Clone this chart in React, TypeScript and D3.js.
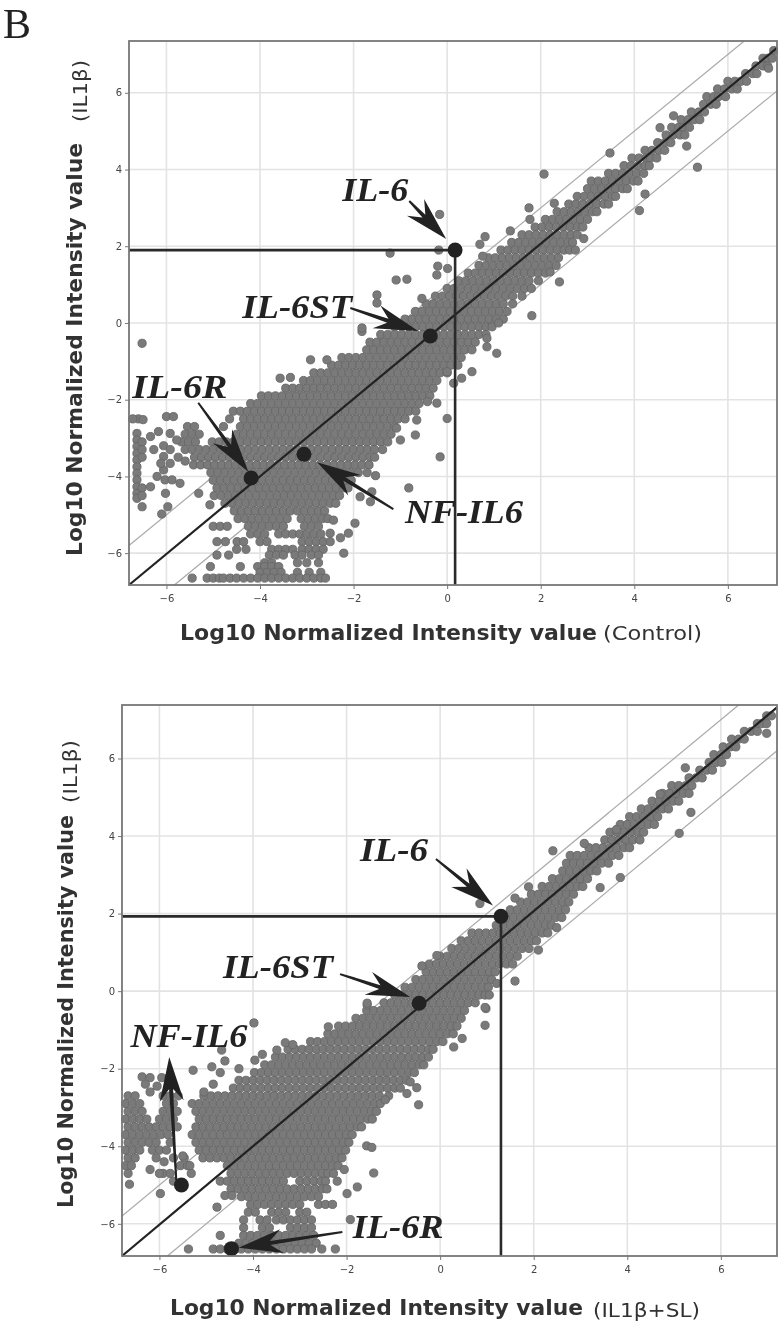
import React, { useEffect, useRef } from 'react'
import * as d3 from 'd3'

type Row = [number, number[]]
type Pair = [number, number]
type Label = [string, number, number, number]

const tickValues = [-6, -4, -2, 0, 2, 4, 6]
const gridValues = [-6, -4, -2, 0, 2, 4, 6]

// dense band of panel 1, read row by row: [y, x values]
const bandControl: Row[] = [
  [7.1, [6.98]],
  [6.9, [6.75, 6.85, 6.95]],
  [6.7, [6.6, 6.75, 6.85]],
  [6.5, [6.38, 6.53, 6.62]],
  [6.3, [6, 6.15, 6.28, 6.4]],
  [6.1, [5.78, 5.93, 6.08, 6.2]],
  [5.9, [5.55, 5.7, 5.8, 5.95]],
  [5.7, [5.48, 5.63, 5.75]],
  [5.5, [5.22, 5.38, 5.5]],
  [5.3, [5, 5.15, 5.28, 5.4]],
  [5.1, [4.8, 4.95, 5.05, 5.18]],
  [4.9, [4.68, 4.83, 4.98, 5.08]],
  [4.7, [4.5, 4.65, 4.78]],
  [4.5, [4.23, 4.38, 4.53, 4.65]],
  [4.3, [3.95, 4.1, 4.25, 4.35, 4.48]],
  [4.1, [3.78, 3.93, 4.08, 4.23, 4.32]],
  [3.9, [3.45, 3.6, 3.75, 3.9, 4.05, 4.2]],
  [3.7, [3.08, 3.23, 3.38, 3.53, 3.68, 3.83, 3.98, 4.08]],
  [3.5, [3, 3.15, 3.3, 3.45, 3.6, 3.75, 3.85]],
  [3.3, [2.78, 2.93, 3.08, 3.23, 3.38, 3.53, 3.6]],
  [3.1, [2.6, 2.75, 2.9, 3.05, 3.2, 3.35, 3.45]],
  [2.9, [2.35, 2.5, 2.65, 2.8, 2.95, 3.1, 3.2]],
  [2.7, [2.1, 2.25, 2.4, 2.55, 2.7, 2.85, 3]],
  [2.5, [1.88, 2.03, 2.18, 2.33, 2.48, 2.63, 2.78, 2.9]],
  [2.3, [1.6, 1.75, 1.9, 2.05, 2.2, 2.35, 2.5, 2.65, 2.78]],
  [2.1, [1.38, 1.53, 1.68, 1.83, 1.98, 2.13, 2.28, 2.43, 2.58, 2.68]],
  [1.9, [1.15, 1.3, 1.45, 1.6, 1.75, 1.9, 2.05, 2.2, 2.35, 2.5, 2.62]],
  [1.7, [.88, 1.03, 1.18, 1.33, 1.48, 1.63, 1.78, 1.93, 2.08, 2.23, 2.38]],
  [1.5, [.68, .83, .98, 1.13, 1.28, 1.43, 1.58, 1.73, 1.88, 2.03, 2.18, 2.33]],
  [1.3, [.45, .6, .75, .9, 1.05, 1.2, 1.35, 1.5, 1.65, 1.8, 1.95, 2.1]],
  [1.1, [.25, .4, .55, .7, .85, 1, 1.15, 1.3, 1.45, 1.6, 1.75, 1.95]],
  [.9, [0, .15, .3, .45, .6, .75, .9, 1.05, 1.2, 1.35, 1.5, 1.65, 1.8]],
  [.7, [-.25, -.1, .05, .2, .35, .5, .65, .8, .95, 1.1, 1.25, 1.4, 1.6]],
  [.5, [-.45, -.3, -.15, 0, .15, .3, .45, .6, .75, .9, 1.05, 1.2, 1.4]],
  [.3, [-.68, -.53, -.38, -.23, -.08, .07, .22, .37, .52, .67, .82, .97, 1.12, 1.28]],
  [.1, [-.9, -.75, -.6, -.45, -.3, -.15, 0, .15, .3, .45, .6, .75, .9, 1.05, 1.2]],
  [-.1, [-1.12, -.97, -.82, -.67, -.52, -.37, -.22, -.07, .08, .23, .38, .53, .68, .83, .96]],
  [-.3, [-1.42, -1.27, -1.12, -.97, -.82, -.67, -.52, -.37, -.22, -.07, .08, .23, .38, .53, .68, .83]],
  [-.5, [-1.65, -1.5, -1.35, -1.2, -1.05, -.9, -.75, -.6, -.45, -.3, -.15, 0, .15, .3, .45, .6]],
  [-.7, [-1.72, -1.57, -1.42, -1.27, -1.12, -.97, -.82, -.67, -.52, -.37, -.22, -.07, .08, .23, .38, .53]],
  [-.9, [-2.25, -2.1, -1.95, -1.8, -1.65, -1.5, -1.35, -1.2, -1.05, -.9, -.75, -.6, -.45, -.3, -.15, 0, .15, .3]],
  [-1.1, [-2.47, -2.32, -2.17, -2.02, -1.87, -1.72, -1.57, -1.42, -1.27, -1.12, -.97, -.82, -.67, -.52, -.37, -.22, -.07, .08, .23]],
  [-1.3, [-2.85, -2.7, -2.55, -2.4, -2.25, -2.1, -1.95, -1.8, -1.65, -1.5, -1.35, -1.2, -1.05, -.9, -.75, -.6, -.45, -.3, -.15, 0]],
  [-1.5, [-3.07, -2.92, -2.77, -2.62, -2.47, -2.32, -2.17, -2.02, -1.87, -1.72, -1.57, -1.42, -1.27, -1.12, -.97, -.82, -.67, -.52, -.37, -.22]],
  [-1.7, [-3.45, -3.3, -3.15, -3, -2.85, -2.7, -2.55, -2.4, -2.25, -2.1, -1.95, -1.8, -1.65, -1.5, -1.35, -1.2, -1.05, -.9, -.75, -.6, -.45, -.3]],
  [-1.9, [-3.97, -3.82, -3.67, -3.52, -3.37, -3.22, -3.07, -2.92, -2.77, -2.62, -2.47, -2.32, -2.17, -2.02, -1.87, -1.72, -1.57, -1.42, -1.27, -1.12, -.97, -.82, -.67, -.52, -.37]],
  [-2.1, [-4.2, -4.05, -3.9, -3.75, -3.6, -3.45, -3.3, -3.15, -3, -2.85, -2.7, -2.55, -2.4, -2.25, -2.1, -1.95, -1.8, -1.65, -1.5, -1.35, -1.2, -1.05, -.9, -.75, -.6]],
  [-2.3, [-4.57, -4.42, -4.27, -4.12, -3.97, -3.82, -3.67, -3.52, -3.37, -3.22, -3.07, -2.92, -2.77, -2.62, -2.47, -2.32, -2.17, -2.02, -1.87, -1.72, -1.57, -1.42, -1.27, -1.12, -.97, -.82, -.67]],
  [-2.5, [-4.65, -4.35, -4.2, -4.05, -3.9, -3.75, -3.6, -3.45, -3.3, -3.15, -3, -2.85, -2.7, -2.55, -2.4, -2.25, -2.1, -1.95, -1.8, -1.65, -1.5, -1.35, -1.2, -1.05, -.9]],
  [-2.7, [-5.55, -5.4, -4.78, -4.42, -4.27, -4.12, -3.97, -3.82, -3.67, -3.52, -3.37, -3.22, -3.07, -2.92, -2.77, -2.62, -2.47, -2.32, -2.17, -2.02, -1.87, -1.72, -1.57, -1.42, -1.27, -1.12]],
  [-2.9, [-5.6, -5.45, -5.3, -4.5, -4.35, -4.2, -4.05, -3.9, -3.75, -3.6, -3.45, -3.3, -3.15, -3, -2.85, -2.7, -2.55, -2.4, -2.25, -2.1, -1.95, -1.8, -1.65, -1.5, -1.35, -1.2]],
  [-3.1, [-5.68, -5.53, -5.38, -5.02, -4.87, -4.72, -4.57, -4.42, -4.27, -4.12, -3.97, -3.82, -3.67, -3.52, -3.37, -3.22, -3.07, -2.92, -2.77, -2.62, -2.47, -2.32, -2.17, -2.02, -1.87, -1.72, -1.57, -1.42, -1.27]],
  [-3.3, [-5.6, -5.45, -5.3, -5.15, -5, -4.85, -4.7, -4.55, -4.4, -4.25, -4.1, -3.95, -3.8, -3.65, -3.5, -3.35, -3.2, -3.05, -2.9, -2.75, -2.6, -2.45, -2.3, -2.15, -2, -1.85, -1.7, -1.55, -1.38]],
  [-3.5, [-5.4, -5.25, -5.1, -4.95, -4.8, -4.65, -4.5, -4.35, -4.2, -4.05, -3.9, -3.75, -3.6, -3.45, -3.3, -3.15, -3, -2.85, -2.7, -2.55, -2.4, -2.25, -2.1, -1.95, -1.8, -1.65, -1.55]],
  [-3.7, [-5.42, -5.27, -5.12, -4.97, -4.82, -4.67, -4.52, -4.37, -4.22, -4.07, -3.92, -3.77, -3.62, -3.47, -3.32, -3.17, -3.02, -2.87, -2.72, -2.57, -2.42, -2.27, -2.12, -1.97, -1.82, -1.67]],
  [-3.9, [-5.05, -4.9, -4.75, -4.6, -4.45, -4.3, -4.15, -4, -3.85, -3.7, -3.55, -3.4, -3.25, -3.1, -2.95, -2.8, -2.65, -2.5, -2.35, -2.2, -2.05, -1.9]],
  [-4.1, [-5, -4.85, -4.7, -4.55, -4.4, -4.25, -4.1, -3.95, -3.8, -3.65, -3.5, -3.35, -3.2, -3.05, -2.9, -2.75, -2.6, -2.45, -2.3, -2.15, -2.05]],
  [-4.3, [-4.92, -4.77, -4.62, -4.47, -4.32, -4.17, -4.02, -3.87, -3.72, -3.57, -3.42, -3.27, -3.12, -2.97, -2.82, -2.67, -2.52, -2.37, -2.22, -2.12]],
  [-4.5, [-4.98, -4.83, -4.68, -4.53, -4.38, -4.23, -4.08, -3.93, -3.78, -3.63, -3.48, -3.33, -3.18, -3.03, -2.88, -2.73, -2.58, -2.43, -2.3]],
  [-4.7, [-4.75, -4.6, -4.45, -4.3, -4.15, -4, -3.85, -3.7, -3.55, -3.4, -3.25, -3.1, -2.95, -2.8, -2.65, -2.5, -2.38]],
  [-4.9, [-4.55, -4.4, -4.25, -4.1, -3.95, -3.8, -3.65, -3.5, -3.35, -3.2, -3.05, -2.9, -2.75, -2.62]],
  [-5.1, [-4.47, -4.32, -4.17, -4.02, -3.87, -3.72, -3.57, -3.42, -3.12, -2.97, -2.82, -2.67, -2.55]],
  [-5.3, [-5, -4.85, -4.7, -4.25, -4.1, -3.95, -3.8, -3.65, -3.5, -3.05, -2.9, -2.75]],
  [-5.5, [-4.2, -4.05, -3.9, -3.6, -3.45, -3.3, -3.15, -3, -2.85, -2.7]],
  [-5.7, [-4.92, -4.74, -4.49, -4.35, -4, -3.85, -3.1, -2.95, -2.8, -2.65, -2.5]],
  [-5.9, [-4.5, -4.3, -3.75, -3.6, -3.45, -3.3, -3.1, -2.95, -2.8, -2.65]],
  [-6.05, [-4.92, -4.67, -3.8, -3.65, -3.5, -3.25, -3.1, -2.9, -2.75]],
  [-6.25, [-3.9, -3.75, -3.2, -3, -2.75]],
  [-6.35, [-5.06, -4.42, -4.05, -3.9, -3.75, -3.6]],
  [-6.5, [-4, -3.85, -3.7, -3.55, -3.2, -2.95, -2.7]],
  [-6.65, [-5.45, -5.13, -5, -4.87, -4.78, -4.64, -4.5, -4.35, -4.2, -4.05, -3.9, -3.75, -3.6, -3.45, -3.3, -3.15, -3, -2.85, -2.7, -2.6]],
]

const scatterControl: Pair[] = [
  [-6.52, -.53], [-6.6, -2.5], [-6.72, -2.5], [-6.5, -2.52], [-6, -2.44], [-5.85, -2.44],
  [-6.63, -2.88], [-6.63, -3.05], [-6.63, -3.22], [-6.63, -3.4], [-6.63, -3.57], [-6.63, -3.75], [-6.63, -3.92], [-6.63, -4.09], [-6.63, -4.27], [-6.63, -4.44], [-6.63, -4.57],
  [-6.52, -3.1], [-6.52, -3.3], [-6.52, -3.5], [-6.52, -4.3], [-6.52, -4.5], [-6.52, -4.79],
  [-6.02, -4.44], [-5.97, -4.79], [-6.1, -4.98], [-6.34, -2.96], [-6.17, -2.83], [-5.92, -2.88], [-5.78, -3.05], [-6.27, -3.3],
  [-6.06, -3.48], [-5.92, -3.66], [-6.06, -3.83], [-6.2, -4], [-6.03, -4.09], [-5.88, -4.09], [-5.71, -4.18], [-6.34, -4.27], [-6.06, -3.2], [-5.92, -3.3], [-6.12, -3.66], [-5.75, -3.5], [-5.6, -3.6],
  [-5.31, -4.44], [-5.07, -4.74], [-1.97, -5.22], [-2.43, -5.14], [-2.5, -5.48], [-2.11, -5.48], [-2.28, -5.6], [-2.21, -6],
  [-.82, -4.3], [-.15, -3.49], [0, -2.49], [-.68, -2.92], [-1, -3.05], [-.65, -2.53], [-1.08, -2.74], [-.22, -2.09], [-.42, -2.05],
  [-1.71, -3.9], [-1.53, -3.98], [-1.86, -4.53], [-1.64, -4.66], [-1.61, -4.4], [-3.57, -1.44], [-3.35, -1.42], [-2.92, -.96], [-2.57, -.96], [-1.82, -.22],
  [.53, -1.27], [.31, -1.44], [0, -1.27], [.14, -1.57], [.85, -.62], [1.06, -.79], [.85, -.4],
  [6.87, 6.64], [4.84, 5.4], [5.12, 4.61], [5.35, 4.06], [4.55, 5.09], [3.48, 4.43], [2.07, 3.88], [4.23, 3.36], [4.11, 2.93], [1.75, 3], [1.77, 2.7], [2.29, 3.12], [1.35, 2.4], [.81, 2.25], [.7, 2.05], [.76, 1.74],
  [-.16, 2.83], [-.18, 1.9], [-.2, 1.48], [.01, 1.42], [-.22, 1.25], [-.86, 1.14], [2.4, 1.07], [1.81, .19], [-.54, .64], [1.1, 0], [2.92, 2.2], [2.74, 1.9], [2.2, 1.33],
  [-1.22, 1.82], [-1.09, 1.12], [-1.5, .73], [-1.5, .52], [-1.82, -.13],
]

// dense band of panel 2
const bandSl: Row[] = [
  [7.1, [6.98, 7.08]],
  [6.9, [6.78, 6.88, 6.98]],
  [6.7, [6.5, 6.65, 6.78]],
  [6.5, [6.23, 6.38, 6.5]],
  [6.3, [6.05, 6.2, 6.32]],
  [6.1, [5.85, 6, 6.12]],
  [5.9, [5.75, 5.9, 6.02]],
  [5.7, [5.55, 5.7, 5.82]],
  [5.5, [5.32, 5.47, 5.6]],
  [5.3, [4.95, 5.1, 5.25, 5.38]],
  [5.1, [4.75, 4.9, 5.05, 5.2, 5.32]],
  [4.9, [4.53, 4.68, 4.83, 4.98, 5.1]],
  [4.7, [4.3, 4.45, 4.6, 4.75, 4.88]],
  [4.5, [4.05, 4.2, 4.35, 4.5, 4.65]],
  [4.3, [3.85, 4, 4.15, 4.3, 4.45, 4.58]],
  [4.1, [3.63, 3.78, 3.93, 4.08, 4.23, 4.35]],
  [3.9, [3.52, 3.67, 3.82, 3.97, 4.12, 4.27]],
  [3.7, [3.18, 3.33, 3.48, 3.63, 3.78, 3.93, 4.05]],
  [3.5, [2.78, 2.93, 3.08, 3.23, 3.38, 3.53, 3.68, 3.82]],
  [3.3, [2.7, 2.85, 3, 3.15, 3.3, 3.45, 3.6]],
  [3.1, [2.62, 2.77, 2.92, 3.07, 3.22, 3.35]],
  [2.9, [2.4, 2.55, 2.7, 2.85, 3, 3.15]],
  [2.7, [2.18, 2.33, 2.48, 2.63, 2.78, 2.93, 3.05]],
  [2.5, [1.95, 2.1, 2.25, 2.4, 2.55, 2.7, 2.85]],
  [2.3, [1.72, 1.87, 2.02, 2.17, 2.32, 2.47, 2.62, 2.75]],
  [2.1, [1.5, 1.65, 1.8, 1.95, 2.1, 2.25, 2.4, 2.55, 2.68]],
  [1.9, [1.42, 1.57, 1.72, 1.87, 2.02, 2.17, 2.32, 2.47, 2.6]],
  [1.7, [1.2, 1.35, 1.5, 1.65, 1.8, 1.95, 2.1, 2.25, 2.38]],
  [1.5, [.68, .83, .98, 1.13, 1.28, 1.43, 1.58, 1.73, 1.88, 2.03, 2.18, 2.3]],
  [1.3, [.45, .6, .75, .9, 1.05, 1.2, 1.35, 1.5, 1.65, 1.8, 1.95, 2.06]],
  [1.1, [.25, .4, .55, .7, .85, 1, 1.15, 1.3, 1.45, 1.6, 1.75, 1.9]],
  [.9, [0, .15, .3, .45, .6, .75, .9, 1.05, 1.2, 1.35, 1.5, 1.65]],
  [.7, [-.23, -.08, .07, .22, .37, .52, .67, .82, .97, 1.12, 1.27, 1.42, 1.55]],
  [.5, [-.3, -.15, 0, .15, .3, .45, .6, .75, .9, 1.05, 1.18]],
  [.3, [-.52, -.37, -.22, -.07, .08, .23, .38, .53, .68, .83, .98, 1.1]],
  [.1, [-.75, -.6, -.45, -.3, -.15, 0, .15, .3, .45, .6, .75, .9, 1.03]],
  [-.1, [-.97, -.82, -.67, -.52, -.37, -.22, -.07, .08, .23, .38, .53, .68, .83, .96]],
  [-.3, [-1.2, -1.05, -.9, -.75, -.6, -.45, -.3, -.15, 0, .15, .3, .45, .6, .75]],
  [-.5, [-1.57, -1.42, -1.27, -1.12, -.97, -.82, -.67, -.52, -.37, -.22, -.07, .08, .23, .38, .52]],
  [-.7, [-1.8, -1.65, -1.5, -1.35, -1.2, -1.05, -.9, -.75, -.6, -.45, -.3, -.15, 0, .15, .3, .45]],
  [-.9, [-2.17, -2.02, -1.87, -1.72, -1.57, -1.42, -1.27, -1.12, -.97, -.82, -.67, -.52, -.37, -.22, -.07, .08, .23, .36]],
  [-1.1, [-2.4, -2.25, -2.1, -1.95, -1.8, -1.65, -1.5, -1.35, -1.2, -1.05, -.9, -.75, -.6, -.45, -.3, -.15, 0, .15, .28]],
  [-1.3, [-2.77, -2.62, -2.47, -2.32, -2.17, -2.02, -1.87, -1.72, -1.57, -1.42, -1.27, -1.12, -.97, -.82, -.67, -.52, -.37, -.22, -.07, .06]],
  [-1.5, [-3.25, -3.1, -2.95, -2.8, -2.65, -2.5, -2.35, -2.2, -2.05, -1.9, -1.75, -1.6, -1.45, -1.3, -1.15, -1, -.85, -.7, -.55, -.4, -.25, -.15]],
  [-1.7, [-3.52, -3.37, -3.22, -3.07, -2.92, -2.77, -2.62, -2.47, -2.32, -2.17, -2.02, -1.87, -1.72, -1.57, -1.42, -1.27, -1.12, -.97, -.82, -.67, -.52, -.37, -.25]],
  [-1.9, [-3.75, -3.6, -3.45, -3.3, -3.15, -3, -2.85, -2.7, -2.55, -2.4, -2.25, -2.1, -1.95, -1.8, -1.65, -1.5, -1.35, -1.2, -1.05, -.9, -.75, -.6, -.45, -.35]],
  [-2.1, [-3.97, -3.82, -3.67, -3.52, -3.37, -3.22, -3.07, -2.92, -2.77, -2.62, -2.47, -2.32, -2.17, -2.02, -1.87, -1.72, -1.57, -1.42, -1.27, -1.12, -.97, -.82, -.67, -.55]],
  [-2.3, [-4.3, -4.15, -4, -3.85, -3.7, -3.55, -3.4, -3.25, -3.1, -2.95, -2.8, -2.65, -2.5, -2.35, -2.2, -2.05, -1.9, -1.75, -1.6, -1.45, -1.3, -1.15, -1, -.85, -.72]],
  [-2.5, [-4.42, -4.27, -4.12, -3.97, -3.82, -3.67, -3.52, -3.37, -3.22, -3.07, -2.92, -2.77, -2.62, -2.47, -2.32, -2.17, -2.02, -1.87, -1.72, -1.57, -1.42, -1.27, -1.12, -.97, -.85]],
  [-2.7, [-6.67, -6.52, -5.92, -5.77, -5.05, -4.9, -4.75, -4.6, -4.45, -4.3, -4.15, -4, -3.85, -3.7, -3.55, -3.4, -3.25, -3.1, -2.95, -2.8, -2.65, -2.5, -2.35, -2.2, -2.05, -1.9, -1.75, -1.6, -1.45, -1.3, -1.1]],
  [-2.9, [-6.72, -6.57, -6.42, -5.85, -5.7, -5.3, -5.15, -5, -4.85, -4.7, -4.55, -4.4, -4.25, -4.1, -3.95, -3.8, -3.65, -3.5, -3.35, -3.2, -3.05, -2.9, -2.75, -2.6, -2.45, -2.3, -2.15, -2, -1.85, -1.7, -1.55, -1.4, -1.28]],
  [-3.1, [-6.67, -6.52, -6.37, -5.92, -5.77, -5.62, -5.22, -5.07, -4.92, -4.77, -4.62, -4.47, -4.32, -4.17, -4.02, -3.87, -3.72, -3.57, -3.42, -3.27, -3.12, -2.97, -2.82, -2.67, -2.52, -2.37, -2.22, -2.07, -1.92, -1.77, -1.62, -1.47, -1.36]],
  [-3.3, [-6.72, -6.57, -6.42, -6.27, -6, -5.85, -5.7, -5.15, -5, -4.85, -4.7, -4.55, -4.4, -4.25, -4.1, -3.95, -3.8, -3.65, -3.5, -3.35, -3.2, -3.05, -2.9, -2.75, -2.6, -2.45, -2.3, -2.15, -2, -1.85, -1.7, -1.55, -1.45]],
  [-3.5, [-6.67, -6.52, -6.37, -6.22, -6.07, -5.92, -5.77, -5.62, -5.22, -5.07, -4.92, -4.77, -4.62, -4.47, -4.32, -4.17, -4.02, -3.87, -3.72, -3.57, -3.42, -3.27, -3.12, -2.97, -2.82, -2.67, -2.52, -2.37, -2.22, -2.07, -1.92, -1.77, -1.68]],
  [-3.7, [-6.72, -6.57, -6.42, -6.27, -6.12, -5.97, -5.82, -5.3, -5.15, -5, -4.85, -4.7, -4.55, -4.4, -4.25, -4.1, -3.95, -3.8, -3.65, -3.5, -3.35, -3.2, -3.05, -2.9, -2.75, -2.6, -2.45, -2.3, -2.15, -2, -1.88]],
  [-3.9, [-6.67, -6.52, -6.37, -6.22, -6.07, -5.77, -5.22, -5.07, -4.92, -4.77, -4.62, -4.47, -4.32, -4.17, -4.02, -3.87, -3.72, -3.57, -3.42, -3.27, -3.12, -2.97, -2.82, -2.67, -2.52, -2.37, -2.22, -2.07, -1.95]],
  [-4.1, [-6.72, -6.57, -6.42, -6.15, -6, -5.85, -5.15, -5, -4.85, -4.7, -4.55, -4.4, -4.25, -4.1, -3.95, -3.8, -3.65, -3.5, -3.35, -3.2, -3.05, -2.9, -2.75, -2.6, -2.45, -2.3, -2.15, -2.02]],
  [-4.3, [-6.67, -6.52, -6.07, -5.47, -5.07, -4.92, -4.77, -4.62, -4.47, -4.32, -4.17, -4.02, -3.87, -3.72, -3.57, -3.42, -3.27, -3.12, -2.97, -2.82, -2.67, -2.52, -2.37, -2.22, -2.1]],
  [-4.5, [-6.72, -6.6, -5.55, -5.4, -4.55, -4.4, -4.25, -4.1, -3.95, -3.8, -3.65, -3.5, -3.35, -3.2, -3.05, -2.9, -2.75, -2.6, -2.45, -2.3, -2.18]],
  [-4.7, [-6.67, -5.92, -5.77, -5.32, -4.47, -4.32, -4.17, -4.02, -3.87, -3.72, -3.57, -3.42, -3.27, -3.12, -2.97, -2.82, -2.67, -2.52, -2.4, -2.28]],
  [-4.9, [-5.7, -4.7, -4.55, -4.4, -4.25, -4.1, -3.95, -3.8, -3.65, -3.5, -3.35, -3, -2.85, -2.7, -2.55, -2.45]],
  [-5.1, [-4.47, -4.32, -4.17, -4.02, -3.87, -3.72, -3.57, -3.42, -3.27, -3.12, -2.97, -2.82, -2.67, -2.52, -2.42]],
  [-5.3, [-4.25, -4.1, -3.95, -3.8, -3.65, -3.5, -3.35, -3.2, -3.05, -2.9, -2.75, -2.6]],
  [-5.5, [-4.05, -3.9, -3.75, -3.6, -3.45, -3.3, -3.15, -3, -2.6, -2.45, -2.3]],
  [-5.7, [-4.1, -3.95, -3.6, -3.45, -3.3, -3, -2.85]],
  [-5.9, [-4.2, -3.85, -3.7, -3.5, -3.35, -3.2, -3.05, -2.9, -2.75]],
  [-6.1, [-4.2, -3.8, -3.65, -3.2, -3.05, -2.9, -2.75]],
  [-6.3, [-4.7, -4.2, -4.05, -3.9, -3.75, -3.6, -3.45, -3.3, -3.15, -3, -2.85, -2.7]],
  [-6.5, [-4.3, -4.15, -4, -3.85, -3.7, -3.55, -3.4, -3.25, -3.1, -2.95, -2.8, -2.65]],
  [-6.65, [-5.38, -4.85, -4.7, -4.55, -4.4, -4.25, -4.1, -3.95, -3.8, -3.65, -3.5, -3.35, -3.2, -3.05, -2.9, -2.75, -2.53, -2.24]],
]

const scatterSl: Pair[] = [
  [-6.64, -4.98], [-5.98, -5.22], [-4.77, -5.57], [-4.6, -5.27], [-4.45, -5.27], [-1.42, -4.69], [-1.77, -5.05], [-1.99, -5.22], [-1.92, -5.89], [-2.2, -4.9], [-2.05, -4.6],
  [-1.57, -3.99], [-1.46, -4.03], [-.46, -2.93], [-.64, -2.34], [-.5, -2.49], [-.71, -2.64], [-1.17, -2.8], [.96, -.88], [.98, -.45], [.29, -1.44], [.47, -1.22],
  [-3.98, -.82], [-5.28, -2.04], [-4.88, -1.95], [-4.67, -1.52], [-3.96, -1.78], [-3.8, -1.63], [-3.49, -1.52], [-3.31, -1.33], [-3.15, -1.38], [-2.39, -.92], [-1.56, -.36],
  [-4.6, -1.8], [-4.7, -2.1], [-4.85, -2.4], [-5.05, -2.6], [-4.3, -2],
  [-6.37, -2.21], [-6.2, -2.23], [-5.95, -2.23], [-5.8, -2.23], [-6.3, -2.4], [-6.05, -2.45], [-6.2, -2.6], [-5.6, -2.7],
  [-6.2, -4.6], [-6, -4.7], [-5.9, -4.4], [-5.7, -4.3], [-5.5, -4.25], [-5.35, -4.5],
  [6.98, 6.65], [5.24, 5.76], [5.36, 4.61], [5.11, 4.07], [4.7, 5.08], [2.41, 3.62], [3.08, 3.81], [3.77, 4.17], [3.85, 2.93], [3.42, 2.67], [1.89, 2.69], [1.6, 2.4], [.85, 2.26], [2.49, 1.64], [2.1, 1.06], [1.6, .26], [.96, -.42], [-.39, .65], [-.07, .92], [1.21, .2], [-1.56, -.31], [1.05, -.1],
]

const controlMarkers: Pair[] = [[.17, 1.9], [-.36, -.34], [-4.19, -4.04], [-3.06, -3.42]]
const slMarkers: Pair[] = [[1.3, 1.93], [-.45, -.31], [-5.53, -5], [-4.46, -6.64]]

// [text, x, y, width in px]
const controlLabels: Label[] = [['IL-6', -2.24, 3.17, 66], ['IL-6ST', -4.38, .13, 110], ['IL-6R', -6.73, -1.96, 95], ['NF-IL6', -.9, -5.22, 118]]
const slLabels: Label[] = [['IL-6', -1.71, 3.35, 68], ['IL-6ST', -4.64, .34, 110], ['NF-IL6', -6.62, -1.43, 117], ['IL-6R', -1.87, -6.37, 91]]

// [tail x, tail y, tip x, tip y]
const controlArrows = [[-.81, 3.18, -.02, 2.19], [-2.07, .39, -.62, -.21], [-5.32, -2.08, -4.25, -3.88], [-1.15, -4.85, -2.78, -3.63]]
const slArrows = [[-.09, 3.41, 1.13, 2.21], [-2.14, .44, -.64, -.15], [-5.64, -4.88, -5.79, -1.7], [-2.09, -6.21, -4.31, -6.62]]

const sans = "'DejaVu Sans', sans-serif"
const serif = "'Liberation Serif', serif"

function arrowPath(a: number[], x: d3.ScaleLinear<number, number>, y: d3.ScaleLinear<number, number>) {
  const x0 = x(a[0]), y0 = y(a[1]), x1 = x(a[2]), y1 = y(a[3])
  const len = Math.hypot(x1 - x0, y1 - y0)
  const ux = (x1 - x0) / len, uy = (y1 - y0) / len
  const at = (back: number, side: number) => `${x1 - ux * back - uy * side},${y1 - uy * back + ux * side}`
  return `M${at(len, 1)}L${at(32, 2)}L${at(44, 12)}L${at(0, 0)}L${at(44, -12)}L${at(32, -2)}L${at(len, -1)}Z`
}

type PanelProps = {
  left: number, right: number, top: number, bottom: number,
  xDomain: Pair, yDomain: Pair, band: Row[], scatter: Pair[], markers: Pair[],
  labels: Label[], arrows: number[][],
}

function Panel({ left, right, top, bottom, xDomain, yDomain, band, scatter, markers, labels, arrows }: PanelProps) {
  const ref = useRef<SVGGElement>(null)
  const x = d3.scaleLinear().domain(xDomain).range([left, right])
  const y = d3.scaleLinear().domain(yDomain).range([bottom, top])
  const points: Pair[] = [...band.flatMap(([v, xs]) => xs.map(u => [u, v] as Pair)), ...scatter]
  const hit = markers[0]

  useEffect(() => {
    const g = d3.select(ref.current)
    g.selectAll('*').remove()
    const xAxis = d3.axisBottom(x).tickValues(tickValues).tickSize(4).tickPadding(6)
    const yAxis = d3.axisLeft(y).tickValues(tickValues).tickSize(4).tickPadding(3)
    g.append('g').attr('transform', `translate(0,${bottom})`).call(xAxis)
    g.append('g').attr('transform', `translate(${left},0)`).call(yAxis)
    g.selectAll('.domain').remove()
    g.selectAll('.tick line').attr('stroke', '#777')
    g.selectAll('.tick text')
      .attr('fill', '#444')
      .attr('font-size', 10)
      .attr('font-family', sans)
  }, [])

  return (
    <g>
      {gridValues.map(v => (
        <g key={v} stroke="#e3e3e3" strokeWidth={1.6}>
          <line x1={x(v)} x2={x(v)} y1={top} y2={bottom} />
          <line x1={left} x2={right} y1={y(v)} y2={y(v)} />
        </g>
      ))}
      {/* 2-fold guides */}
      {[1, -1].map(k => {
        const a = Math.max(xDomain[0], yDomain[0] - k)
        const b = Math.min(xDomain[1], yDomain[1] - k)
        return <line key={k} x1={x(a)} y1={y(a + k)} x2={x(b)} y2={y(b + k)} stroke="#aaa" strokeWidth={1.2} />
      })}
      {points.map((p, i) => (
        <circle key={i} cx={x(p[0])} cy={y(p[1])} r={4.1} fill="#7a7a7a" stroke="#666" strokeWidth={.9} />
      ))}
      <line x1={left} y1={bottom} x2={right} y2={y(xDomain[1] + .12)} stroke="#222" strokeWidth={2.2} />
      <path d={`M${left},${y(hit[1])}H${x(hit[0])}V${bottom}`} fill="none" stroke="#2a2a2a" strokeWidth={2.6} />
      {markers.map((m, i) => (
        <circle key={i} cx={x(m[0])} cy={y(m[1])} r={7.5} fill="#222" />
      ))}
      {arrows.map((a, i) => (
        <path key={i} d={arrowPath(a, x, y)} fill="#222" />
      ))}
      {labels.map(([t, u, v, w]) => (
        <text key={t} x={x(u)} y={y(v)} fontFamily={serif} fontWeight="bold" fontStyle="italic" fontSize={33} fill="#222"
          textLength={w} lengthAdjust="spacingAndGlyphs">{t}</text>
      ))}
      <rect x={left} y={top} width={right - left} height={bottom - top} fill="none" stroke="#777" strokeWidth={1.8} />
      <g ref={ref} />
    </g>
  )
}

export default function App() {
  return (
    <svg width={780} height={1324} style={{ position: 'absolute', top: 0, left: 0, display: 'block' }}>
      <defs>
        <filter id="soft" x="0" y="0" width="100%" height="100%">
          <feGaussianBlur stdDeviation={.6} />
        </filter>
      </defs>
      <rect width={780} height={1324} fill="#fff" />
      <g filter="url(#soft)">
        <text x={3} y={38} fontFamily={serif} fontSize={42} fill="#222">B</text>
        <Panel left={129} right={777} top={41} bottom={585} xDomain={[-6.8, 7.05]} yDomain={[-6.83, 7.35]}
          band={bandControl} scatter={scatterControl} markers={controlMarkers} labels={controlLabels} arrows={controlArrows} />
        <Panel left={122} right={777} top={705} bottom={1256} xDomain={[-6.8, 7.2]} yDomain={[-6.83, 7.38]}
          band={bandSl} scatter={scatterSl} markers={slMarkers} labels={slLabels} arrows={slArrows} />

        <g fill="#333" fontFamily={sans}>
          <text x={180} y={640} fontSize={21} fontWeight="bold" textLength={417} lengthAdjust="spacingAndGlyphs">Log10 Normalized Intensity value</text>
          <text x={603} y={640} fontSize={20} textLength={99} lengthAdjust="spacingAndGlyphs">(Control)</text>
          <text transform="translate(82,556) rotate(-90)" fontSize={21} fontWeight="bold" textLength={413} lengthAdjust="spacingAndGlyphs">Log10 Normalized Intensity value</text>
          <text transform="translate(87,122) rotate(-90)" fontSize={20} textLength={62} lengthAdjust="spacingAndGlyphs">(IL1β)</text>
          <text x={170} y={1315} fontSize={21} fontWeight="bold" textLength={413} lengthAdjust="spacingAndGlyphs">Log10 Normalized Intensity value</text>
          <text x={593} y={1317} fontSize={19} textLength={107} lengthAdjust="spacingAndGlyphs">(IL1β+SL)</text>
          <text transform="translate(73,1208) rotate(-90)" fontSize={21} fontWeight="bold" textLength={393} lengthAdjust="spacingAndGlyphs">Log10 Normalized Intensity value</text>
          <text transform="translate(77,803) rotate(-90)" fontSize={20} textLength={63} lengthAdjust="spacingAndGlyphs">(IL1β)</text>
        </g>
      </g>
    </svg>
  )
}
